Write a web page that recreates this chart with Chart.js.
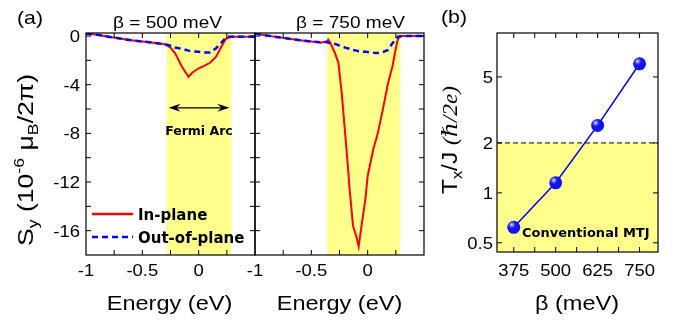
<!DOCTYPE html>
<html>
<head>
<meta charset="utf-8">
<script src="https://cdn.jsdelivr.net/npm/chart.js@4.4.1/dist/chart.umd.min.js"></script>
<style>
  body { margin: 0; background: #fff; width: 675px; height: 322px; position: relative; overflow: hidden; }
  canvas { position: absolute; top: 0; }
</style>
</head>
<body>
<canvas id="c500" width="260" height="322" style="left:0"></canvas>
<canvas id="c750" width="190" height="322" style="left:240px"></canvas>
<canvas id="cb" width="245" height="322" style="left:430px"></canvas>
<script>
// panel (a), beta = 500 meV
const energy500 = [-1, -0.9, -0.8, -0.7, -0.6, -0.5, -0.4, -0.29, -0.25, -0.21, -0.15, -0.09, -0.055, 0, 0.05, 0.1, 0.155, 0.2, 0.24, 0.27, 0.3, 0.4, 0.5];
const inPlane500 = [0.2, 0.1, -0.05, -0.2, -0.35, -0.45, -0.55, -0.7, -0.95, -1.4, -2.5, -3.35, -3.0, -2.65, -2.45, -2.2, -1.7, -0.9, -0.25, -0.1, -0.05, -0.05, -0.05];
const outPlane500 = [0.2, 0.1, -0.05, -0.2, -0.35, -0.45, -0.55, -0.7, -0.8, -0.95, -1.05, -1.2, -1.25, -1.3, -1.35, -1.35, -1.0, -0.55, -0.15, -0.05, -0.05, -0.05, -0.05];
const arc500 = [-0.285, 0.29];

// panel (a), beta = 750 meV
const energy750 = [-1, -0.9, -0.75, -0.6, -0.5, -0.42, -0.36, -0.35, -0.33, -0.29, -0.26, -0.23, -0.2, -0.18, -0.16, -0.13, -0.1, -0.08, -0.05, -0.02, 0, 0.05, 0.09, 0.14, 0.18, 0.22, 0.25, 0.27, 0.3, 0.4, 0.5];
const inPlane750 = [0.2, 0.05, -0.15, -0.35, -0.45, -0.55, -0.45, -0.3, -0.6, -1.4, -2.2, -4.7, -8, -10.2, -12.6, -15.6, -16.5, -17.3, -15.3, -13.4, -11.5, -9.3, -8, -5.8, -3.9, -2.5, -1.0, -0.2, 0, 0, 0];
const outPlane750 = [0.2, 0.05, -0.15, -0.35, -0.45, -0.5, -0.5, -0.55, -0.58, -0.65, -0.75, -0.85, -0.95, -1.0, -1.05, -1.15, -1.2, -1.25, -1.28, -1.3, -1.32, -1.38, -1.4, -1.3, -1.15, -0.6, -0.25, -0.05, 0, 0, 0];
const arc750 = [-0.36, 0.29];

const energyTicks = [-1, -0.5, 0];
const energyMinor = [-0.75, -0.5, -0.25, 0, 0.25];
const sTicks = [0, -4, -8, -12, -16];
const sMinor = [0, -2, -4, -6, -8, -10, -12, -14, -16];

// panel (b)
const betaValues = [375, 500, 625, 750];
const torque = [0.62, 1.15, 2.55, 6.0];
const betaMinor = [375, 437.5, 500, 562.5, 625, 687.5, 750];
const torqueTicks = [0.5, 1, 2, 5];
const mtjLimit = 2;

const RED = '#ff0000', BLUE = '#0000ff', YELLOW = '#ffff8c';
const SANS = '"Liberation Sans", Arial, sans-serif';
const SX = 1.12;

function text(ctx, s, x, y, font, align, sx = SX) {
  ctx.save();
  ctx.font = font;
  ctx.fillStyle = '#000';
  ctx.textAlign = 'left';
  ctx.textBaseline = 'alphabetic';
  const w = ctx.measureText(s).width * sx;
  const x0 = align === 'center' ? x - w / 2 : align === 'right' ? x - w : x;
  ctx.translate(x0, y);
  ctx.scale(sx, 1);
  ctx.fillText(s, 0, 0);
  ctx.restore();
}

// run of text with sub/superscripts, centred on (x, y), stretched to len
function rich(ctx, segs, x, y, len, ky) {
  ctx.save();
  ctx.fillStyle = '#000';
  ctx.textAlign = 'left';
  ctx.textBaseline = 'alphabetic';
  let w = 0;
  segs.forEach(g => { ctx.font = g[1]; w += ctx.measureText(g[0]).width; });
  ctx.translate(x, y);
  ctx.rotate(-Math.PI / 2);
  ctx.scale(len / w, ky);
  let cx = -w / 2;
  segs.forEach(g => {
    ctx.font = g[1];
    ctx.fillText(g[0], cx, g[2] || 0);
    cx += ctx.measureText(g[0]).width;
  });
  ctx.restore();
}

function frame(chart, xt, yt) {
  const { ctx, chartArea: a, scales: { x, y } } = chart;
  const L = 5;
  ctx.save();
  ctx.strokeStyle = '#000';
  ctx.lineWidth = 1.2;
  ctx.strokeRect(a.left, a.top, a.right - a.left, a.bottom - a.top);
  ctx.lineWidth = 1;
  ctx.beginPath();
  xt.forEach(v => {
    const p = x.getPixelForValue(v);
    ctx.moveTo(p, a.bottom); ctx.lineTo(p, a.bottom - L);
    ctx.moveTo(p, a.top); ctx.lineTo(p, a.top + L);
  });
  yt.forEach(v => {
    const p = y.getPixelForValue(v);
    ctx.moveTo(a.left, p); ctx.lineTo(a.left + L, p);
    ctx.moveTo(a.right, p); ctx.lineTo(a.right - L, p);
  });
  ctx.stroke();
  ctx.restore();
}

function band(chart, lo, hi) {
  const { ctx, chartArea: a, scales: { x } } = chart;
  const x0 = x.getPixelForValue(lo), x1 = x.getPixelForValue(hi);
  ctx.save();
  ctx.fillStyle = YELLOW;
  ctx.fillRect(x0, a.top, x1 - x0, a.bottom - a.top);
  ctx.restore();
}

function xLabels(chart, ticks, fmt) {
  const { ctx, scales: { x } } = chart;
  ticks.forEach(v => text(ctx, fmt(v), x.getPixelForValue(v), 276, '16.5px ' + SANS, 'center'));
}

function lineSet(energy, values, color, width, dash, order) {
  return {
    data: energy.map((e, i) => ({ x: e, y: values[i] })),
    borderColor: color,
    borderWidth: width,
    borderDash: dash,
    pointRadius: 0,
    tension: 0,
    order: order
  };
}

function energyOptions(pad) {
  return {
    responsive: false,
    animation: false,
    devicePixelRatio: 1,
    events: [],
    layout: { padding: pad },
    plugins: { legend: { display: false }, tooltip: { enabled: false } },
    scales: {
      x: { type: 'linear', min: -1, max: 0.5, display: false },
      y: { type: 'linear', min: -18, max: 0.25, display: false }
    }
  };
}

const fmtE = v => (v === 0 ? '0' : String(v));

new Chart(document.getElementById('c500'), {
  type: 'line',
  data: { datasets: [
    lineSet(energy500, inPlane500, RED, 2, [], 2),
    lineSet(energy500, outPlane500, BLUE, 2.5, [6, 4], 1)
  ] },
  options: energyOptions({ left: 86, top: 33, right: 5, bottom: 67 }),
  plugins: [{
    id: 'deco500',
    beforeDatasetsDraw(chart) { band(chart, arc500[0], arc500[1]); },
    afterDatasetsDraw(chart) {
      const { ctx, scales: { x, y } } = chart;
      frame(chart, energyMinor, sMinor);
      xLabels(chart, energyTicks, fmtE);
      sTicks.forEach(v => text(ctx, String(v), 80, y.getPixelForValue(v) + 6, '16.5px ' + SANS, 'right'));
      text(ctx, '(a)', 17, 24, '19px ' + SANS, 'left');
      text(ctx, '\u03b2 = 500 meV', 167.5, 28, '17px ' + SANS, 'center');
      text(ctx, 'Energy (eV)', 169.5, 310, '21px ' + SANS, 'center');
      rich(ctx, [
        ['S', '21px ' + SANS], ['y', '14px ' + SANS, 5], [' (10', '21px ' + SANS],
        ['-6', '14px ' + SANS, -9], [' \u03bc', '21px ' + SANS], ['B', '14px ' + SANS, 5],
        ['/2\u03c0)', '21px ' + SANS]
      ], 33, 160, 172, 1.05);

      // Fermi arc arrow
      const x0 = x.getPixelForValue(arc500[0]) + 2, x1 = x.getPixelForValue(arc500[1]) - 2;
      const ya = y.getPixelForValue(-5.9);
      ctx.save();
      ctx.strokeStyle = '#000'; ctx.fillStyle = '#000'; ctx.lineWidth = 1.3;
      ctx.beginPath(); ctx.moveTo(x0 + 4, ya); ctx.lineTo(x1 - 4, ya); ctx.stroke();
      ctx.beginPath(); ctx.moveTo(x0, ya); ctx.lineTo(x0 + 12, ya - 4); ctx.lineTo(x0 + 8, ya); ctx.lineTo(x0 + 12, ya + 4); ctx.closePath(); ctx.fill();
      ctx.beginPath(); ctx.moveTo(x1, ya); ctx.lineTo(x1 - 12, ya - 4); ctx.lineTo(x1 - 8, ya); ctx.lineTo(x1 - 12, ya + 4); ctx.closePath(); ctx.fill();
      ctx.restore();
      text(ctx, 'Fermi Arc', (x0 + x1) / 2, y.getPixelForValue(-8.1), 'bold 12.5px "DejaVu Sans", sans-serif', 'center', 1);

      // legend
      ctx.save();
      ctx.lineWidth = 2.5;
      ctx.strokeStyle = RED;
      ctx.beginPath(); ctx.moveTo(92, 214); ctx.lineTo(133, 214); ctx.stroke();
      ctx.strokeStyle = BLUE; ctx.setLineDash([6, 4]);
      ctx.beginPath(); ctx.moveTo(92, 237); ctx.lineTo(133, 237); ctx.stroke();
      ctx.restore();
      text(ctx, 'In-plane', 138, 220, 'bold 15px "DejaVu Sans", sans-serif', 'left', 1);
      text(ctx, 'Out-of-plane', 138, 243, 'bold 15px "DejaVu Sans", sans-serif', 'left', 1);
    }
  }]
});

new Chart(document.getElementById('c750'), {
  type: 'line',
  data: { datasets: [
    lineSet(energy750, inPlane750, RED, 2, [], 2),
    lineSet(energy750, outPlane750, BLUE, 2.5, [6, 4], 1)
  ] },
  options: energyOptions({ left: 15, top: 33, right: 6, bottom: 67 }),
  plugins: [{
    id: 'deco750',
    beforeDatasetsDraw(chart) { band(chart, arc750[0], arc750[1]); },
    afterDatasetsDraw(chart) {
      const { ctx } = chart;
      frame(chart, energyMinor, sMinor);
      xLabels(chart, energyTicks, fmtE);
      text(ctx, '\u03b2 = 750 meV', 110.5, 28, '17px ' + SANS, 'center');
      text(ctx, 'Energy (eV)', 99.5, 310, '21px ' + SANS, 'center');
    }
  }]
});

new Chart(document.getElementById('cb'), {
  type: 'line',
  data: { datasets: [{
    data: betaValues.map((b, i) => ({ x: b, y: torque[i] })),
    borderColor: BLUE,
    borderWidth: 1.5,
    pointRadius: 6.5,
    pointBorderWidth: 0,
    pointBackgroundColor: '#1414f0',
    tension: 0
  }] },
  options: {
    responsive: false,
    animation: false,
    devicePixelRatio: 1,
    events: [],
    layout: { padding: { left: 67, top: 33, right: 17, bottom: 70 } },
    plugins: { legend: { display: false }, tooltip: { enabled: false } },
    scales: {
      x: { type: 'linear', min: 325, max: 805, display: false },
      y: { type: 'logarithmic', min: 0.44, max: 9.2, display: false }
    }
  },
  plugins: [{
    id: 'decoB',
    beforeDatasetsDraw(chart) {
      const { ctx, chartArea: a, scales: { y } } = chart;
      const yl = y.getPixelForValue(mtjLimit);
      ctx.save();
      ctx.fillStyle = YELLOW;
      ctx.fillRect(a.left, yl, a.right - a.left, a.bottom - yl);
      ctx.strokeStyle = '#000'; ctx.lineWidth = 1; ctx.setLineDash([5, 3]);
      ctx.beginPath(); ctx.moveTo(a.left, yl); ctx.lineTo(a.right, yl); ctx.stroke();
      ctx.restore();
    },
    afterDatasetsDraw(chart) {
      const { ctx, scales: { y } } = chart;
      // sphere highlights on the markers
      chart.getDatasetMeta(0).data.forEach(pt => {
        const g = ctx.createRadialGradient(pt.x - 2, pt.y - 2.5, 0, pt.x - 2, pt.y - 2.5, 4);
        g.addColorStop(0, 'rgba(255,255,255,0.95)');
        g.addColorStop(1, 'rgba(120,120,255,0)');
        ctx.save();
        ctx.fillStyle = g;
        ctx.beginPath(); ctx.arc(pt.x, pt.y, 6.5, 0, Math.PI * 2); ctx.fill();
        ctx.restore();
      });
      frame(chart, betaMinor, torqueTicks);
      xLabels(chart, betaValues, String);
      torqueTicks.forEach(v => text(ctx, String(v), 63, y.getPixelForValue(v) + 6, '16.5px ' + SANS, 'right'));
      text(ctx, '(b)', 11, 23, '19px ' + SANS, 'left');
      text(ctx, '\u03b2 (meV)', 147, 310, '21px ' + SANS, 'center');
      text(ctx, 'Conventional MTJ', 92, 237, 'bold 13px "DejaVu Sans", sans-serif', 'left', 1);
      rich(ctx, [
        ['T', '21px ' + SANS], ['x', '14px ' + SANS, 5], ['/J ', '21px ' + SANS],
        ['(\u210f/2e)', 'italic 20px "Liberation Serif", "DejaVu Serif", serif']
      ], 27, 140, 108, 1.05);
    }
  }]
});
</script>
</body>
</html>
